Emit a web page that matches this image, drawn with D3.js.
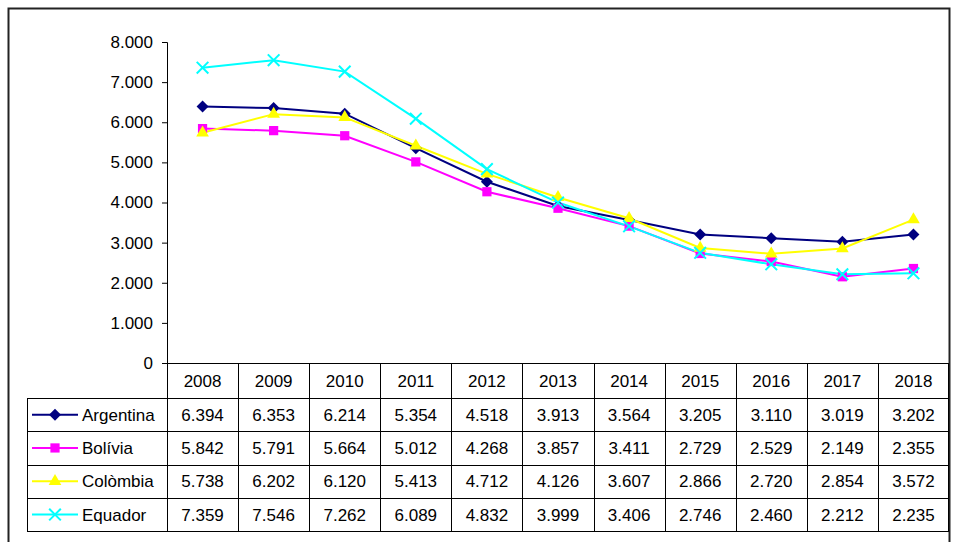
<!DOCTYPE html>
<html>
<head>
<meta charset="utf-8">
<script src="https://cdn.jsdelivr.net/npm/d3@7"></script>
<style>
  body { margin: 0; background: #fff; }
  text { font-family: "Liberation Sans", Arial, sans-serif; font-size: 17px; fill: #000; }
</style>
</head>
<body>
<svg id="chart" width="954" height="542"></svg>
<script>
const years = ["2008","2009","2010","2011","2012","2013","2014","2015","2016","2017","2018"];
const countries = ["Argentina","Bolívia","Colòmbia","Equador"];
const argentina = [6394,6353,6214,5354,4518,3913,3564,3205,3110,3019,3202];
const bolivia = [5842,5791,5664,5012,4268,3857,3411,2729,2529,2149,2355];
const colombia = [5738,6202,6120,5413,4712,4126,3607,2866,2720,2854,3572];
const equador = [7359,7546,7262,6089,4832,3999,3406,2746,2460,2212,2235];
const yTicks = [0,1000,2000,3000,4000,5000,6000,7000,8000];

const colors = ["#000080","#FF00FF","#FFFF00","#00FFFF"];
// diamond = square turned 45 degrees
const symbols = [d3.symbolSquare, d3.symbolSquare, d3.symbolTriangle, d3.symbolX];
const symSizes = [72, 85, 70, 90];
const symRot = [45, 0, 0, 0];

const seriesData = [argentina, bolivia, colombia, equador].map((vals, i) => ({
    name: countries[i],
    values: vals
}));

const fmtVal = (v) => (v / 1000).toFixed(3);
const fmtTick = (v) => v === 0 ? "0" : (v / 1000).toFixed(3);

const drawMarker = (g, si, px, py) => {
    g.append("path")
        .attr("d", d3.symbol().type(symbols[si]).size(symSizes[si]))
        .attr("transform", "translate(" + px + "," + py + ") rotate(" + symRot[si] + ")")
        .attr("fill", si === 3 ? "none" : colors[si])
        .attr("stroke", colors[si])
        .attr("stroke-width", si === 3 ? 2 : 0);
}

const buildChart = () => {
    let chart = d3.select("#chart");
    let margin = { left: 167, right: 949, top: 42, bottom: 363 };
    let rowH = 33.3;
    let headH = 35;
    let legLeft = 27;

    // outer frame
    chart.append("rect")
        .attr("x", 8.5).attr("y", 8.5)
        .attr("width", 941).attr("height", 560)
        .attr("fill", "none")
        .attr("stroke", "#222")
        .attr("stroke-width", 2);

    let x = d3.scaleBand()
        .domain(years)
        .range([margin.left, margin.right]);
    let y = d3.scaleLinear()
        .domain([0, 8000])
        .range([margin.bottom, margin.top]);

    let y_axis = d3.axisLeft(y).tickValues(yTicks).tickFormat(fmtTick).tickSize(5).tickPadding(9);
    let gy = chart.append("g")
        .attr("transform", "translate(" + margin.left + ",0)")
        .call(y_axis);
    gy.select(".domain").attr("stroke", "#000");
    gy.selectAll(".tick line").attr("stroke", "#000");
    gy.selectAll("text").style("font-size", "17px").style("font-family", "Liberation Sans, Arial, sans-serif");

    // lines
    let line = d3.line()
        .x((d, i) => x(years[i]) + x.bandwidth() / 2)
        .y((d) => y(d));
    seriesData.forEach((s, si) => {
        chart.append("path")
            .datum(s.values)
            .attr("d", line)
            .attr("fill", "none")
            .attr("stroke", colors[si])
            .attr("stroke-width", 2);
    });
    seriesData.forEach((s, si) => {
        s.values.forEach((v, i) => {
            drawMarker(chart, si, x(years[i]) + x.bandwidth() / 2, y(v));
        });
    });

    // data table
    let tableTop = margin.bottom;
    let bodyTop = tableTop + headH;
    let tableBottom = bodyTop + rowH * countries.length;
    let tg = chart.append("g").attr("stroke", "#000").attr("stroke-width", 1);
    tg.append("line").attr("x1", margin.left).attr("x2", margin.right)
        .attr("y1", tableTop + 0.5).attr("y2", tableTop + 0.5);
    for (let r = 0; r <= countries.length; r++) {
        let yy = Math.round(bodyTop + r * rowH) + 0.5;
        tg.append("line").attr("x1", legLeft).attr("x2", margin.right)
            .attr("y1", yy).attr("y2", yy);
    }
    tg.append("line").attr("x1", legLeft + 0.5).attr("x2", legLeft + 0.5)
        .attr("y1", bodyTop).attr("y2", tableBottom + 0.5);
    years.forEach((yr) => {
        let xx = Math.round(x(yr)) + 0.5;
        tg.append("line").attr("x1", xx).attr("x2", xx)
            .attr("y1", tableTop).attr("y2", tableBottom + 0.5);
    });
    tg.append("line").attr("x1", margin.right - 0.5).attr("x2", margin.right - 0.5)
        .attr("y1", tableTop).attr("y2", tableBottom + 0.5);

    chart.selectAll(".yr")
        .data(years)
        .enter().append("text")
        .attr("x", (d) => x(d) + x.bandwidth() / 2)
        .attr("y", tableTop + headH / 2 + 6)
        .attr("text-anchor", "middle")
        .text((d) => d);

    seriesData.forEach((s, si) => {
        let cy = bodyTop + rowH * si + rowH / 2;
        chart.append("line")
            .attr("x1", 32).attr("x2", 78)
            .attr("y1", cy).attr("y2", cy)
            .attr("stroke", colors[si]).attr("stroke-width", 2);
        drawMarker(chart, si, 55, cy);
        chart.append("text")
            .attr("x", 82).attr("y", cy + 6)
            .text(s.name);
        chart.selectAll(".v" + si)
            .data(s.values)
            .enter().append("text")
            .attr("x", (d, i) => x(years[i]) + x.bandwidth() / 2)
            .attr("y", cy + 6)
            .attr("text-anchor", "middle")
            .text((d) => fmtVal(d));
    });
}

buildChart();
</script>
</body>
</html>
